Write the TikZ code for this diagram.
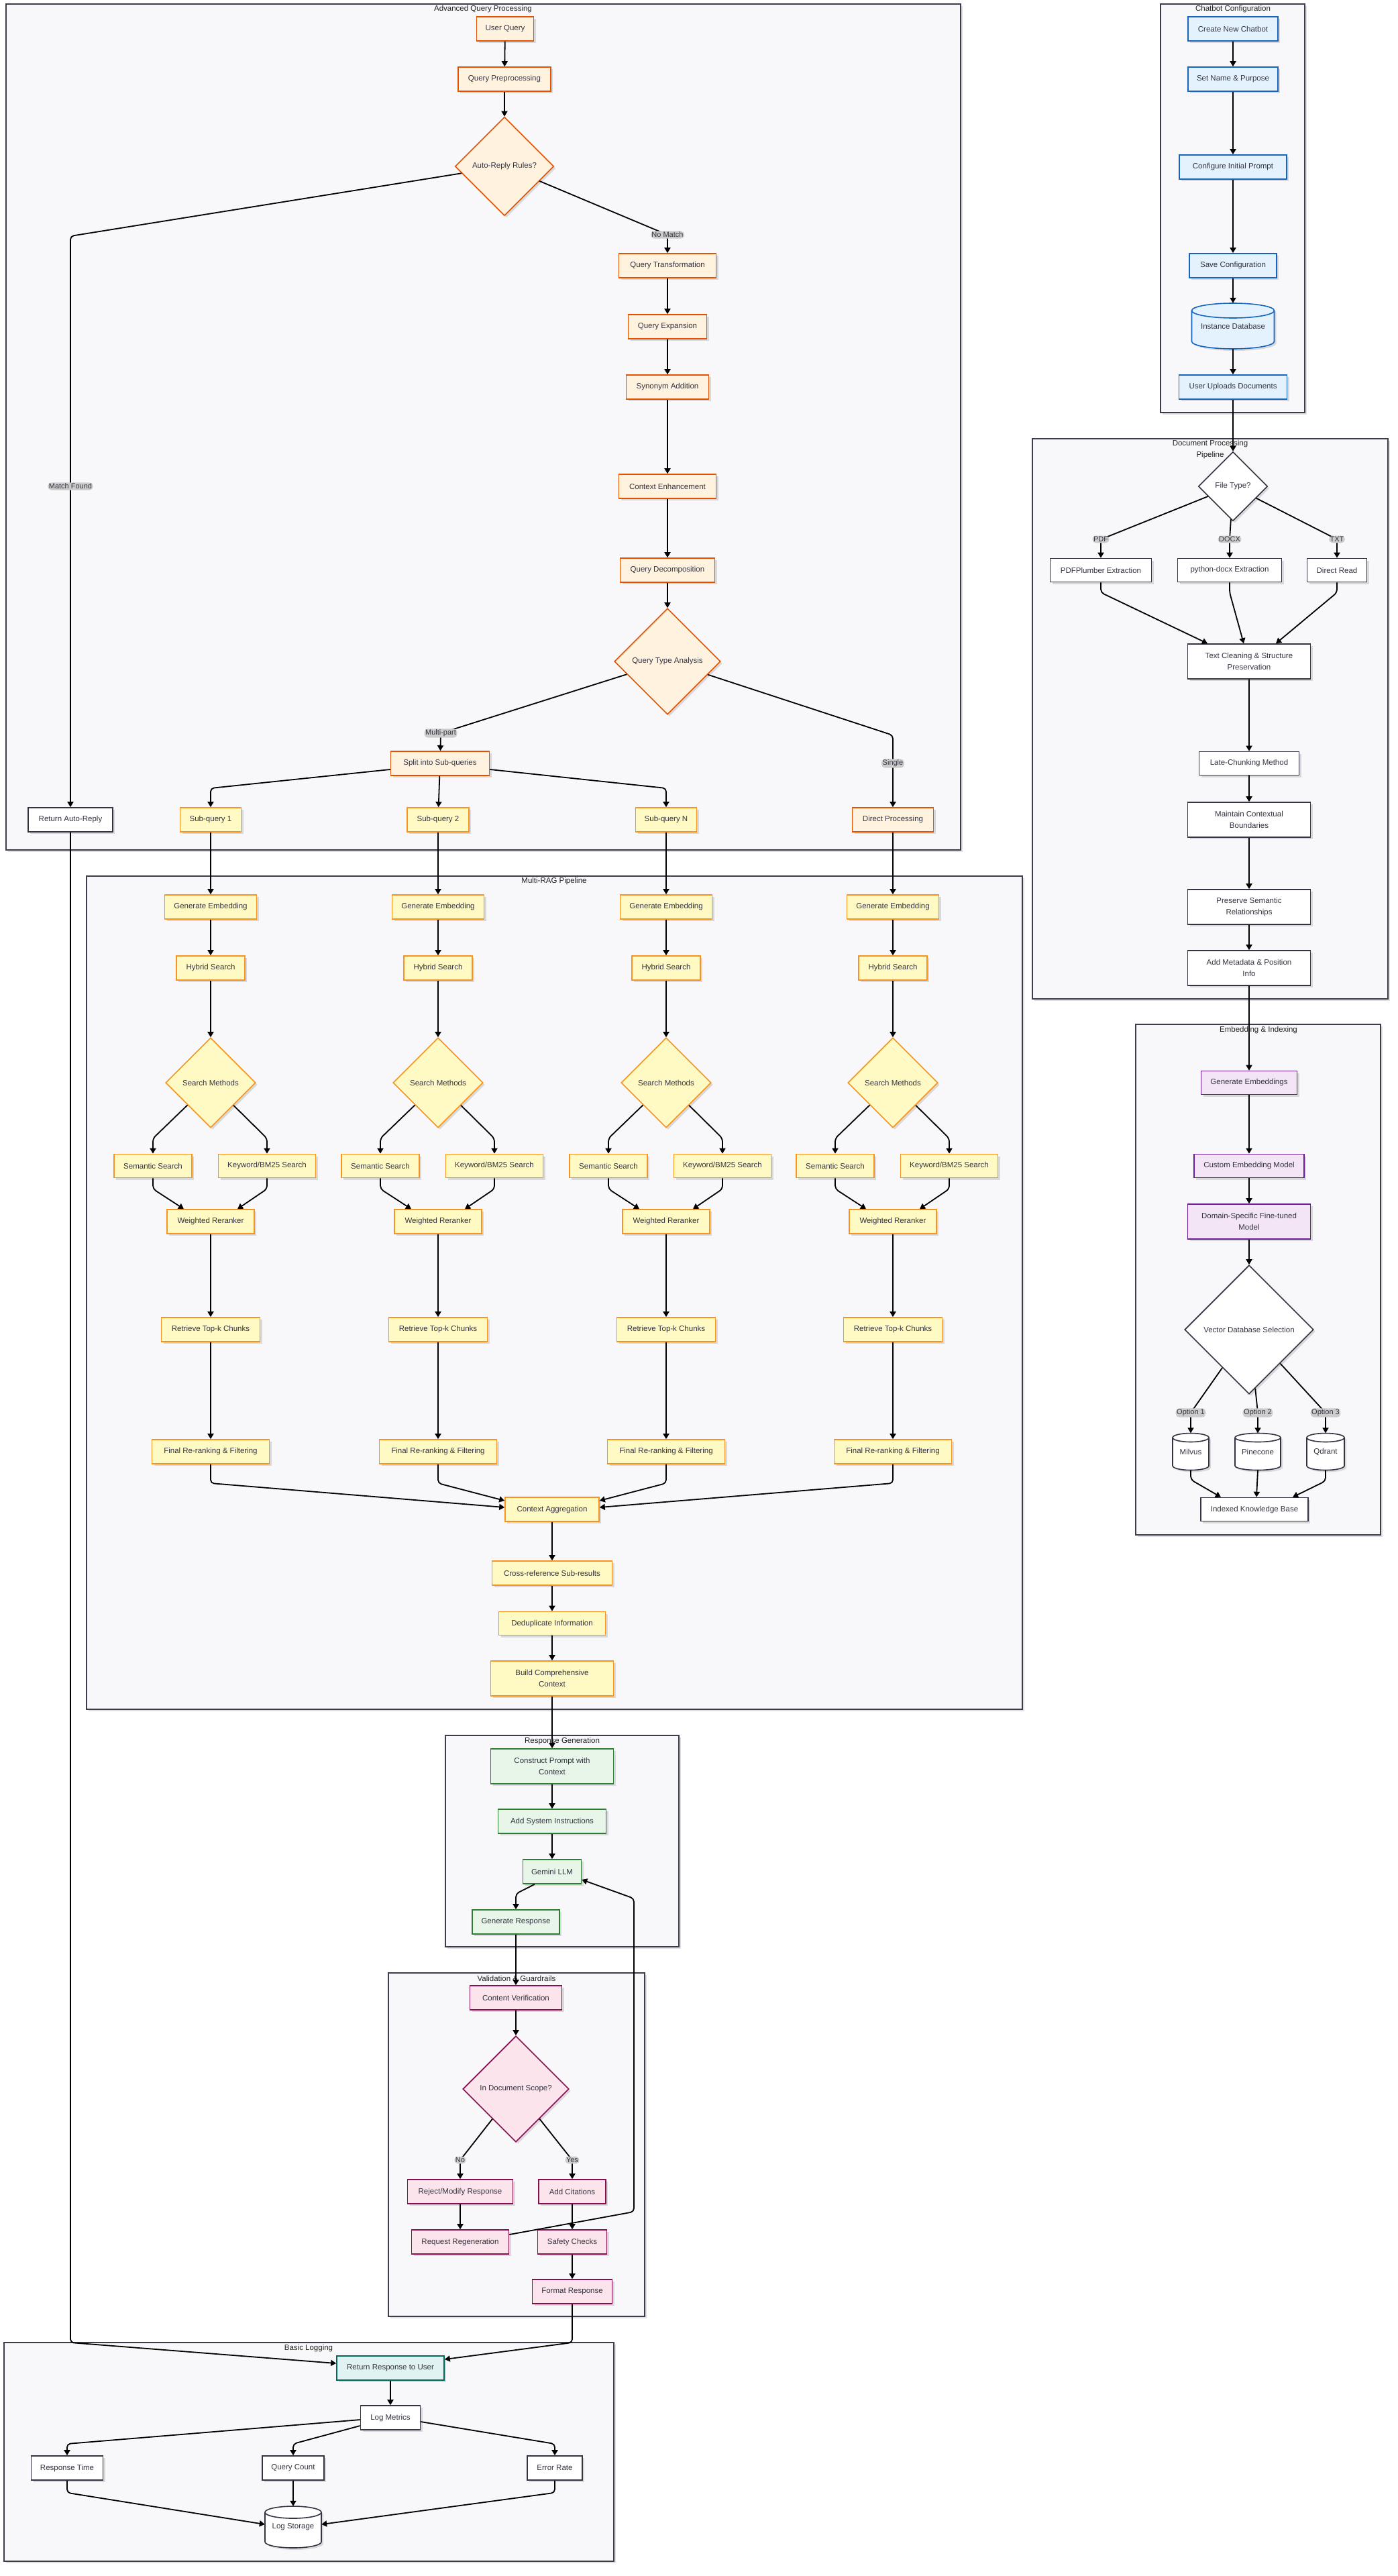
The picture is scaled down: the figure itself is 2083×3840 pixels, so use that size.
\documentclass[tikz,border=0pt]{standalone}
\usepackage{fontspec}
\setmainfont{Liberation Sans}
\usetikzlibrary{shapes.geometric,arrows.meta,shadows,calc}
\definecolor{aqpF}{HTML}{FFF3E0}\definecolor{aqpD}{HTML}{E65100}
\definecolor{ragF}{HTML}{FFF9C4}\definecolor{ragD}{HTML}{F7931E}
\definecolor{ccF}{HTML}{E3F2FD}\definecolor{ccD}{HTML}{1565C0}
\definecolor{eiF}{HTML}{F3E5F5}\definecolor{eiD}{HTML}{6A1B9A}
\definecolor{rgF}{HTML}{E8F5E9}\definecolor{rgD}{HTML}{2E7D32}
\definecolor{vgF}{HTML}{FCE4EC}\definecolor{vgD}{HTML}{880E4F}
\definecolor{rtF}{HTML}{E0F2F1}\definecolor{rtD}{HTML}{00695C}
\definecolor{defD}{HTML}{333344}
\definecolor{clF}{HTML}{F8F8FA}\definecolor{clD}{HTML}{3C3C4C}
\definecolor{lblF}{HTML}{CCCCCC}
\definecolor{txtc}{HTML}{333340}
\definecolor{ttlc}{HTML}{222222}
\newcommand{\myNF}{\fontsize{11.5}{16.5}\selectfont}
\newcommand{\myLF}{\fontsize{11}{13}\selectfont}
\newcommand{\mycyl}[6]{%
  \path[#6,shd] (#1-#3,#2-#4+#5) -- (#1-#3,#2+#4-#5) arc[start angle=180,end angle=360,x radius=#3pt,y radius=#5pt] -- (#1+#3,#2-#4+#5) arc[start angle=0,end angle=180,x radius=#3pt,y radius=#5pt] -- cycle;
  \draw[#6,fill=none] (#1-#3,#2-#4+#5) arc[start angle=180,end angle=360,x radius=#3pt,y radius=#5pt];
}
\begin{document}
\begin{tikzpicture}[x=1pt,y=-1pt,
 shd/.style={drop shadow={shadow xshift=3pt,shadow yshift=-3pt,opacity=0.12,fill=black}},
 cl/.style={fill=clF,draw=clD,line width=1.6pt,shd},
 ttl/.style={font=\myNF,text=ttlc,inner sep=0pt,align=center},
 bx/.style={rectangle,draw=defD,fill=white,line width=1.6pt,text=txtc,font=\myNF,inner sep=2pt,align=center,shd},
 caqp/.style={fill=aqpF,draw=aqpD},
 crag/.style={fill=ragF,draw=ragD},
 cvg/.style={fill=vgF,draw=vgD},
 aqp/.style={bx,caqp},
 rag/.style={bx,crag},
 ccs/.style={bx,fill=ccF,draw=ccD},
 eis/.style={bx,fill=eiF,draw=eiD},
 rgs/.style={bx,fill=rgF,draw=rgD},
 vgs/.style={bx,cvg},
 rts/.style={bx,fill=rtF,draw=rtD},
 dmd/.style={bx,diamond,aspect=1,inner sep=0pt},
 cylc/.style={fill=white,draw=defD,line width=1.6pt},
 cyltxt/.style={rectangle,draw=none,fill=none,text=txtc,font=\myNF,inner sep=0pt},
 edg/.style={draw=black,line width=1.8pt,rounded corners=5pt,-{Triangle[length=8pt,width=9pt]}},
 lbl/.style={fill=lblF,text=txtc,font=\myLF,inner sep=1.5pt},
]
\useasboundingbox (0,0) rectangle (2083,3840);
\fill[white] (0,0) rectangle (2083,3840);

% ---------- clusters ----------
\path[cl] (9,6) rectangle (1432,1267);
\node[ttl] (t1) at (720,14) {Advanced Query Processing};
\path[cl] (1730,6) rectangle (1945,615);
\node[ttl] (t2) at (1838,14) {Chatbot Configuration};
\path[cl] (1539,654) rectangle (2069,1489);
\node[ttl] (t3) at (1804,670) {Document Processing\\Pipeline};
\path[cl] (1693,1527) rectangle (2058,2288);
\node[ttl] (t4) at (1876,1536) {Embedding \& Indexing};
\path[cl] (129,1306) rectangle (1524,2548);
\node[ttl] (t5) at (826,1314) {Multi-RAG Pipeline};
\path[cl] (664,2587) rectangle (1012,2902);
\node[ttl] (t6) at (838,2595) {Response Generation};
\path[cl] (579,2941) rectangle (961,3453);
\node[ttl] (t7) at (770,2949) {Validation \& Guardrails};
\path[cl] (6,3492) rectangle (915,3818);
\node[ttl] (t8) at (460,3500) {Basic Logging};

% ---------- Advanced Query Processing ----------
\node[aqp,minimum width=85pt,minimum height=36pt] (uq) at (753,43) {User Query};
\node[aqp,minimum width=138pt,minimum height=36pt] (qp) at (752,118) {Query Preprocessing};
\node[dmd,caqp,minimum width=147pt,minimum height=147pt] (ar) at (752,248) {Auto-Reply Rules?};
\node[aqp,minimum width=145pt,minimum height=36pt] (qt) at (995,396) {Query Transformation};
\node[aqp,minimum width=117pt,minimum height=36pt] (qe) at (995,487) {Query Expansion};
\node[aqp,minimum width=123pt,minimum height=36pt] (sa) at (995,577) {Synonym Addition};
\node[aqp,minimum width=145pt,minimum height=36pt] (ce) at (995,725) {Context Enhancement};
\node[aqp,minimum width=141pt,minimum height=36pt] (qd) at (995,850) {Query Decomposition};
\node[dmd,caqp,minimum width=158pt,minimum height=158pt] (qta) at (995,986) {Query Type Analysis};
\node[aqp,minimum width=147pt,minimum height=36pt] (split) at (656,1138) {Split into Sub-queries};
\node[bx,minimum width=126pt,minimum height=36pt] (rar) at (105,1222) {Return Auto-Reply};
\node[rag,minimum width=91pt,minimum height=36pt] (sq1) at (314,1222) {Sub-query 1};
\node[rag,minimum width=92pt,minimum height=36pt] (sq2) at (653,1222) {Sub-query 2};
\node[rag,minimum width=91pt,minimum height=36pt] (sqn) at (993,1222) {Sub-query N};
\node[aqp,minimum width=121pt,minimum height=36pt] (dp) at (1331,1222) {Direct Processing};

% ---------- Chatbot Configuration ----------
\node[ccs,minimum width=134pt,minimum height=36pt] (cc1) at (1838,43) {Create New Chatbot};
\node[ccs,minimum width=134pt,minimum height=36pt] (cc2) at (1838,118) {Set Name \& Purpose};
\node[ccs,minimum width=160pt,minimum height=36pt] (cc3) at (1838,249) {Configure Initial Prompt};
\node[ccs,minimum width=130pt,minimum height=36pt] (cc4) at (1838,396) {Save Configuration};
\mycyl{1838}{486}{61.5}{34}{11}{cylc,fill=ccF,draw=ccD}
\node[cyltxt,minimum width=123pt,minimum height=68pt] (idb) at (1838,486) {Instance Database};
\node[ccs,minimum width=161pt,minimum height=36pt] (cc6) at (1838,577) {User Uploads Documents};

% ---------- Document Processing ----------
\node[dmd,minimum width=103pt,minimum height=103pt] (ft) at (1838,725) {File Type?};
\node[bx,minimum width=151pt,minimum height=35pt] (pdf) at (1641,850) {PDFPlumber Extraction};
\node[bx,minimum width=155pt,minimum height=35pt] (docx) at (1833,850) {python-docx Extraction};
\node[bx,minimum width=89pt,minimum height=35pt] (txt) at (1993,850) {Direct Read};
\node[bx,minimum width=183pt,minimum height=52pt] (tc) at (1862,986) {Text Cleaning \& Structure\\Preservation};
\node[bx,minimum width=149pt,minimum height=35pt] (lc) at (1862,1138) {Late-Chunking Method};
\node[bx,minimum width=183pt,minimum height=52pt] (mcb) at (1862,1222) {Maintain Contextual\\Boundaries};
\node[bx,minimum width=183pt,minimum height=52pt] (psr) at (1862,1352) {Preserve Semantic\\Relationships};
\node[bx,minimum width=183pt,minimum height=52pt] (amp) at (1862,1443) {Add Metadata \& Position\\Info};

% ---------- Embedding & Indexing ----------
\node[eis,minimum width=143pt,minimum height=35pt] (ge) at (1862,1614) {Generate Embeddings};
\node[eis,minimum width=164pt,minimum height=35pt] (cem) at (1862,1738) {Custom Embedding Model};
\node[eis,minimum width=183pt,minimum height=52pt] (dsm) at (1862,1821) {Domain-Specific Fine-tuned\\Model};
\node[dmd,minimum width=192pt,minimum height=192pt] (vdb) at (1862,1982) {Vector Database Selection};
\mycyl{1775}{2164}{27}{27.5}{6.5}{cylc}
\node[cyltxt,minimum width=54pt,minimum height=55pt] (mil) at (1775,2164) {Milvus};
\mycyl{1875}{2164}{34}{27.5}{6.5}{cylc}
\node[cyltxt,minimum width=68pt,minimum height=55pt] (pin) at (1875,2164) {Pinecone};
\mycyl{1976}{2164}{28}{27.5}{6.5}{cylc}
\node[cyltxt,minimum width=56pt,minimum height=55pt] (qdr) at (1976,2164) {Qdrant};
\node[bx,minimum width=160pt,minimum height=35pt] (ikb) at (1870,2250) {Indexed Knowledge Base};

% ---------- Multi-RAG ----------
\foreach \i/\cx in {1/314,2/653,3/993,4/1331}{
  \node[rag,minimum width=137pt,minimum height=36pt] (gemb\i) at (\cx,1352) {Generate Embedding};
  \node[rag,minimum width=102pt,minimum height=36pt] (hyb\i) at (\cx,1443) {Hybrid Search};
  \node[dmd,crag,minimum width=134pt,minimum height=134pt] (sm\i) at (\cx,1614) {Search Methods};
  \node[rag,minimum width=116pt,minimum height=35pt] (sem\i) at (\cx-86,1738) {Semantic Search};
  \node[rag,minimum width=145pt,minimum height=35pt] (kw\i) at (\cx+84,1738) {Keyword/BM25 Search};
  \node[rag,minimum width=130pt,minimum height=36pt] (wr\i) at (\cx,1821) {Weighted Reranker};
  \node[rag,minimum width=147pt,minimum height=36pt] (rt\i) at (\cx,1982) {Retrieve Top-k Chunks};
  \node[rag,minimum width=175pt,minimum height=36pt] (fr\i) at (\cx,2164) {Final Re-ranking \& Filtering};
  \draw[edg] (gemb\i) -- (hyb\i);
  \draw[edg] (hyb\i) -- (sm\i);
  \draw[edg] (sm\i) -- (\cx-86,1697) -- (sem\i);
  \draw[edg] (sm\i) -- (\cx+84,1697) -- (kw\i);
  \draw[edg] (sem\i.south) -- ++(0,16) -- ([xshift=-40pt]wr\i.north);
  \draw[edg] (kw\i.south) -- ++(0,16) -- ([xshift=40pt]wr\i.north);
  \draw[edg] (wr\i) -- (rt\i);
  \draw[edg] (rt\i) -- (fr\i);
}
\node[rag,minimum width=140pt,minimum height=36pt] (ca) at (823,2250) {Context Aggregation};
\node[rag,minimum width=179pt,minimum height=36pt] (cr) at (823,2345) {Cross-reference Sub-results};
\node[rag,minimum width=159pt,minimum height=35pt] (dd) at (823,2420) {Deduplicate Information};
\node[rag,minimum width=183pt,minimum height=52pt] (bcc) at (823,2502) {Build Comprehensive\\Context};

% ---------- Response Generation ----------
\node[rgs,minimum width=183pt,minimum height=52pt] (cpc) at (823,2633) {Construct Prompt with\\Context};
\node[rgs,minimum width=161pt,minimum height=36pt] (asi) at (823,2715) {Add System Instructions};
\node[rgs,minimum width=87pt,minimum height=36pt] (gem) at (823,2790) {Gemini LLM};
\node[rgs,minimum width=130pt,minimum height=36pt] (gr) at (769,2865) {Generate Response};

% ---------- Validation ----------
\node[vgs,minimum width=137pt,minimum height=36pt] (cv) at (769,2978) {Content Verification};
\node[dmd,cvg,minimum width=158pt,minimum height=158pt] (ids) at (769,3114) {In Document Scope?};
\node[vgs,minimum width=157pt,minimum height=36pt] (rmr) at (686,3267) {Reject/Modify Response};
\node[vgs,minimum width=100pt,minimum height=36pt] (ac) at (853,3267) {Add Citations};
\node[vgs,minimum width=145pt,minimum height=36pt] (rr) at (686,3342) {Request Regeneration};
\node[vgs,minimum width=103pt,minimum height=36pt] (sc) at (853,3342) {Safety Checks};
\node[vgs,minimum width=119pt,minimum height=36pt] (fmt) at (853,3416) {Format Response};

% ---------- Basic Logging ----------
\node[rts,minimum width=160pt,minimum height=36pt] (rrtu) at (582,3530) {Return Response to User};
\node[bx,minimum width=89pt,minimum height=36pt] (lm) at (582,3604) {Log Metrics};
\node[bx,minimum width=107pt,minimum height=36pt] (rtm) at (100,3679) {Response Time};
\node[bx,minimum width=92pt,minimum height=36pt] (qc) at (437,3679) {Query Count};
\node[bx,minimum width=82pt,minimum height=36pt] (er) at (827,3679) {Error Rate};
\mycyl{437}{3767}{42}{31}{9}{cylc}
\node[cyltxt,minimum width=84pt,minimum height=62pt] (ls) at (437,3767) {Log Storage};

% ---------- edges ----------
\draw[edg] (uq) -- (qp);
\draw[edg] (qp) -- (ar);
\draw[edg] (ar) -- (105,352) -- (105,725) node[lbl] {Match Found} -- (rar);
\draw[edg] (ar) -- (995,350) node[lbl] {No Match} -- (qt);
\draw[edg] (qt) -- (qe);
\draw[edg] (qe) -- (sa);
\draw[edg] (sa) -- (ce);
\draw[edg] (ce) -- (qd);
\draw[edg] (qd) -- (qta);
\draw[edg] (qta) -- (657,1093) node[lbl] {Multi-part} -- (split);
\draw[edg] (qta) -- (1331,1096) -- (1331,1138) node[lbl] {Single} -- (dp);
\draw[edg] ([yshift=-9pt]split.west) -- (314,1175) -- (sq1);
\draw[edg] (split) -- (sq2);
\draw[edg] ([yshift=-9pt]split.east) -- (993,1175) -- (sqn);
\draw[edg] (sq1) -- (gemb1);
\draw[edg] (sq2) -- (gemb2);
\draw[edg] (sqn) -- (gemb3);
\draw[edg] (dp) -- (gemb4);

\draw[edg] (cc1) -- (cc2);
\draw[edg] (cc2) -- (cc3);
\draw[edg] (cc3) -- (cc4);
\draw[edg] (cc4) -- (idb);
\draw[edg] (idb) -- (cc6);
\draw[edg] (cc6) -- (ft);

\draw[edg] (ft) -- (1641,804) node[lbl] {PDF} -- (pdf);
\draw[edg] (ft) -- (1833,804) node[lbl] {DOCX} -- (docx);
\draw[edg] (ft) -- (1993,804) node[lbl] {TXT} -- (txt);
\draw[edg] (pdf.south) -- ++(0,15) -- ([xshift=-62pt]tc.north);
\draw[edg] (docx.south) -- ++(0,15) -- ([xshift=-8pt]tc.north);
\draw[edg] (txt.south) -- ++(0,15) -- ([xshift=40pt]tc.north);
\draw[edg] (tc) -- (lc);
\draw[edg] (lc) -- (mcb);
\draw[edg] (mcb) -- (psr);
\draw[edg] (psr) -- (amp);
\draw[edg] (amp) -- (ge);

\draw[edg] (ge) -- (cem);
\draw[edg] (cem) -- (dsm);
\draw[edg] (dsm) -- (vdb);
\draw[edg] (vdb) -- (1775,2106) node[lbl] {Option 1} -- (mil);
\draw[edg] (vdb) -- (1875,2106) node[lbl] {Option 2} -- (pin);
\draw[edg] (vdb) -- (1976,2106) node[lbl] {Option 3} -- (qdr);
\draw[edg] (mil.south) -- ++(0,14) -- ([xshift=-50pt]ikb.north);
\draw[edg] (pin.south) -- ([xshift=3pt]ikb.north);
\draw[edg] (qdr.south) -- ++(0,16) -- ([xshift=57pt]ikb.north);

\draw[edg] (fr1.south) -- (314,2211) -- ([yshift=3pt]ca.west);
\draw[edg] (fr2.south) -- (653,2211) -- ([yshift=13pt]ca.west);
\draw[edg] (fr3.south) -- (993,2211) -- ([yshift=13pt]ca.east);
\draw[edg] (fr4.south) -- (1331,2211) -- ([yshift=3pt]ca.east);
\draw[edg] (ca) -- (cr);
\draw[edg] (cr) -- (dd);
\draw[edg] (dd) -- (bcc);
\draw[edg] (bcc) -- (cpc);

\draw[edg] (cpc) -- (asi);
\draw[edg] (asi) -- (gem);
\draw[edg] ([xshift=-26pt]gem.south) -- (769,2823) -- (gr);
\draw[edg] (gr) -- (cv);

\draw[edg] (cv) -- (ids);
\draw[edg] (ids) -- (686,3220) node[lbl] {No} -- (rmr);
\draw[edg] (ids) -- (853,3220) node[lbl] {Yes} -- (ac);
\draw[edg] (rmr) -- (rr);
\draw[edg] (ac) -- (sc);
\draw[edg] (sc) -- (fmt);
\draw[edg] ([yshift=11pt]rr.east) -- (945,3297) -- (945,2830) -- ([yshift=-12pt]gem.east);

\draw[edg] (fmt.south) -- (853,3492) -- ([yshift=13pt]rrtu.east);
\draw[edg] (rar.south) -- (105,3492) -- ([yshift=7pt]rrtu.west);
\draw[edg] (rrtu) -- (lm);
\draw[edg] ([yshift=-3pt]lm.west) -- (100,3643) -- (rtm);
\draw[edg] ([yshift=-12pt]lm.west) -- (437,3643) -- (qc);
\draw[edg] ([yshift=-6pt]lm.east) -- (827,3643) -- (er);
\draw[edg] (rtm.south) -- ++(0,18) -- ([yshift=4pt]ls.west);
\draw[edg] (qc) -- (ls);
\draw[edg] (er.south) -- ++(0,18) -- ([yshift=4pt]ls.east);
\end{tikzpicture}
\end{document}
